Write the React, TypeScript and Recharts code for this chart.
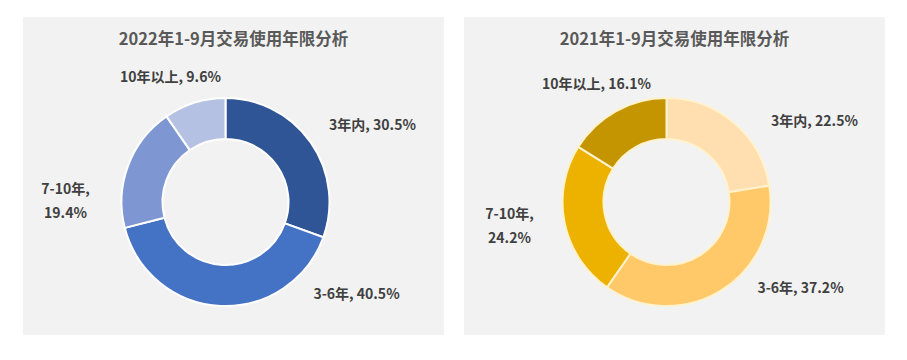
import React from 'react';
import { PieChart, Pie, Cell } from 'recharts';

const categories = ['3年内', '3-6年', '7-10年', '10年以上'];
const share2022 = [30.5, 40.5, 19.4, 9.6];
const share2021 = [22.5, 37.2, 24.2, 16.1];

const FONT = '"Noto Sans CJK SC", "Noto Sans", sans-serif';

interface PanelProps {
    title: string;
    values: number[];
    colors: string[];
    stroke: string;
    // label offsets from the donut centre, and whether the label wraps
    labelPos: { dx: number; dy: number; wrap?: boolean }[];
}

const PANEL_W = 421;
const PANEL_H = 318;
const CX = 202.5;
const CY = 185;

const DonutPanel: React.FC<PanelProps> = ({ title, values, colors, stroke, labelPos }) => {
    const data = categories.map((name, i) => ({ name, value: values[i] }));

    const renderLabel = (props: any) => {
        const { cx, cy, index, name, value } = props;
        const pos = labelPos[index];
        const x = cx + pos.dx;
        const y = cy + pos.dy;
        const common = {
            fill: '#404040',
            fontSize: 14,
            fontWeight: 700,
            fontFamily: FONT,
            textAnchor: 'middle' as const,
            dominantBaseline: 'central' as const,
        };
        if (pos.wrap) {
            return (
                <text x={x} y={y} {...common}>
                    <tspan x={x} dy={-12}>{`${name},`}</tspan>
                    <tspan x={x} dy={24}>{`${value}%`}</tspan>
                </text>
            );
        }
        return (
            <text x={x} y={y} {...common}>
                {`${name}, ${value}%`}
            </text>
        );
    };

    return (
        <div style={{ position: 'relative', width: PANEL_W, height: PANEL_H, background: '#f2f2f2' }}>
            <div
                style={{
                    position: 'absolute',
                    top: 9,
                    left: 0,
                    width: PANEL_W,
                    textAlign: 'center',
                    fontFamily: FONT,
                    fontWeight: 700,
                    fontSize: 16.5,
                    color: '#595959',
                    lineHeight: '24px',
                }}
            >
                {title}
            </div>
            <PieChart
                width={PANEL_W}
                height={PANEL_H}
                margin={{ top: 0, right: 0, bottom: 0, left: 0 }}
                style={{ position: 'absolute', top: 0, left: 0 }}
            >
                <Pie
                    data={data}
                    dataKey="value"
                    nameKey="name"
                    cx={CX}
                    cy={CY}
                    innerRadius={63}
                    outerRadius={104}
                    startAngle={90}
                    endAngle={-270}
                    stroke={stroke}
                    strokeWidth={2}
                    label={renderLabel}
                    labelLine={false}
                    isAnimationActive={false}
                >
                    {data.map((d, i) => (
                        <Cell key={d.name} fill={colors[i]} />
                    ))}
                </Pie>
            </PieChart>
        </div>
    );
};

export default function App() {
    return (
        <div style={{ position: 'absolute', left: 0, top: 0, width: 907, height: 360, background: '#fff' }}>
            <div style={{ position: 'absolute', left: 23, top: 17 }}>
                <DonutPanel
                    title="2022年1-9月交易使用年限分析"
                    values={share2022}
                    colors={['#2f5597', '#4472c4', '#7e97d2', '#b4c1e2']}
                    stroke="#ffffff"
                    labelPos={[
                        { dx: 147, dy: -78 },
                        { dx: 131, dy: 91 },
                        { dx: -160, dy: -2, wrap: true },
                        { dx: -55, dy: -126 },
                    ]}
                />
            </div>
            <div style={{ position: 'absolute', left: 464, top: 17 }}>
                <DonutPanel
                    title="2021年1-9月交易使用年限分析"
                    values={share2021}
                    colors={['#ffdfb0', '#ffc868', '#edb100', '#c59500']}
                    stroke="#fff2cc"
                    labelPos={[
                        { dx: 148, dy: -82 },
                        { dx: 134, dy: 85 },
                        { dx: -157, dy: 23, wrap: true },
                        { dx: -70, dy: -119 },
                    ]}
                />
            </div>
        </div>
    );
}
